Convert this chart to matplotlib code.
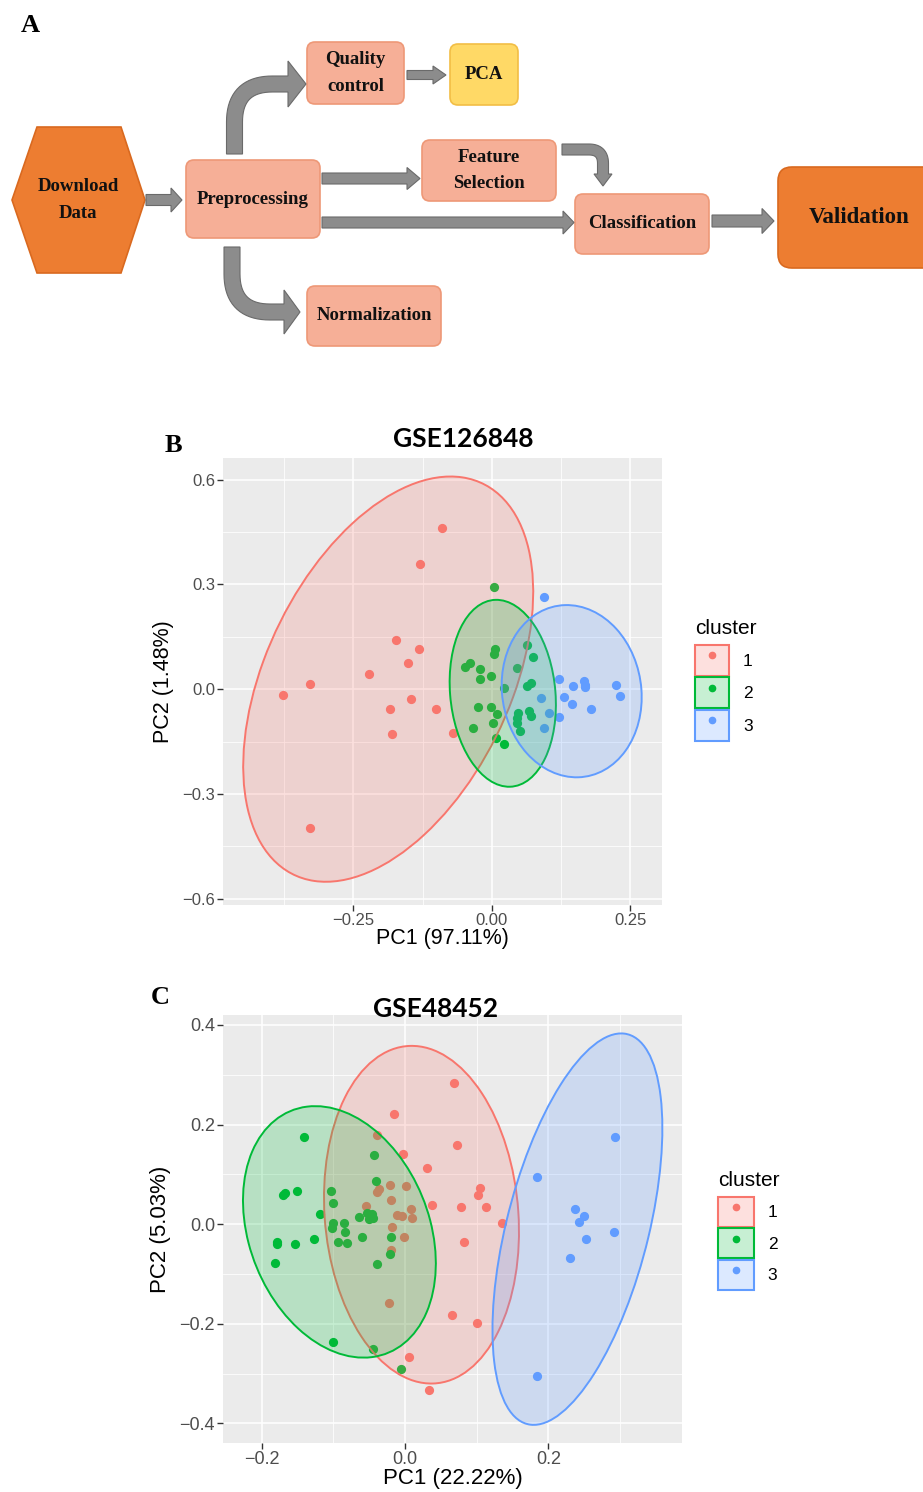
import numpy as np
import matplotlib
matplotlib.use('Agg')
import matplotlib.pyplot as plt
from matplotlib.patches import FancyBboxPatch, Polygon, Ellipse, Patch
from matplotlib.lines import Line2D
from matplotlib.colors import to_rgba

W, H = 923, 1492

# ---------------- data: GSE126848 (panel B) ----------------
b_x1 = [-0.089, -0.130, -0.173, -0.132, -0.151, -0.222, -0.328, -0.377, -0.146, -0.184,
        -0.101, -0.181, -0.070, -0.328]
b_y1 = [0.463, 0.358, 0.141, 0.115, 0.076, 0.043, 0.014, -0.016, -0.029, -0.057,
        -0.057, -0.129, -0.124, -0.396]
b_x2 = [0.004, 0.006, 0.004, 0.063, 0.075, -0.048, -0.039, -0.022, -0.021, -0.001,
        0.045, 0.022, 0.063, 0.071, -0.024, -0.002, 0.009, -0.034, 0.002, 0.008,
        0.022, 0.048, 0.045, 0.046, 0.051, 0.068, 0.071]
b_y2 = [0.292, 0.115, 0.101, 0.127, 0.092, 0.065, 0.074, 0.057, 0.029, 0.039,
        0.062, 0.003, 0.009, 0.017, -0.050, -0.052, -0.071, -0.110, -0.097, -0.140,
        -0.157, -0.067, -0.081, -0.096, -0.119, -0.062, -0.076]
b_x3 = [0.095, 0.122, 0.146, 0.166, 0.169, 0.169, 0.224, 0.231, 0.089, 0.131,
        0.145, 0.179, 0.104, 0.122, 0.095]
b_y3 = [0.265, 0.029, 0.009, 0.024, 0.012, 0.007, 0.012, -0.019, -0.024, -0.021,
        -0.043, -0.056, -0.067, -0.080, -0.112]
# ellipses: centre, half extent in x / y, correlation
b_ell_cx = [-0.187, 0.020, 0.1445]
b_ell_cy = [0.029, -0.0115, -0.0055]
b_ell_sx = [0.262, 0.096, 0.1265]
b_ell_sy = [0.580, 0.2675, 0.2465]
b_ell_r = [0.43, -0.12, -0.07]
b_xticks = [-0.25, 0.0, 0.25]
b_xlabels = ['\u22120.25', '0.00', '0.25']
b_yticks = [-0.6, -0.3, 0.0, 0.3, 0.6]
b_ylabels = ['\u22120.6', '\u22120.3', '0.0', '0.3', '0.6']

# ---------------- data: GSE48452 (panel C) ----------------
c_x1 = [0.068, -0.015, -0.039, 0.073, -0.003, 0.030, 0.104, 0.102, 0.113, 0.078,
        0.037, 0.135, 0.082, 0.065, 0.100, 0.005, 0.033, -0.022,
        -0.021, 0.002, -0.039, -0.036, -0.020, -0.055, -0.011, -0.004, 0.009, 0.010,
        -0.018, -0.002, -0.019]
c_y1 = [0.284, 0.221, 0.179, 0.158, 0.140, 0.112, 0.072, 0.059, 0.034, 0.035,
        0.039, 0.003, -0.035, -0.182, -0.198, -0.266, -0.332, -0.158,
        0.078, 0.077, 0.065, 0.070, 0.049, 0.037, 0.018, 0.017, 0.030, 0.013,
        -0.006, -0.025, -0.052]
c_x2 = [-0.141, -0.043, -0.041, -0.170, -0.167, -0.150, -0.103, -0.101, -0.119, -0.064,
        -0.053, -0.046, -0.050, -0.045, -0.100, -0.102, -0.085, -0.084, -0.060, -0.019,
        -0.094, -0.081, -0.127, -0.153, -0.179, -0.179, -0.181, -0.021, -0.039, -0.100,
        -0.045, -0.006]
c_y2 = [0.176, 0.139, 0.087, 0.059, 0.062, 0.067, 0.067, 0.042, 0.020, 0.015,
        0.023, 0.020, 0.010, 0.012, 0.003, -0.008, 0.003, -0.016, -0.026, -0.025,
        -0.035, -0.037, -0.029, -0.040, -0.035, -0.040, -0.077, -0.060, -0.079, -0.237,
        -0.251, -0.290]
c_x3 = [0.293, 0.184, 0.237, 0.249, 0.243, 0.252, 0.292, 0.230, 0.184]
c_y3 = [0.175, 0.095, 0.031, 0.017, 0.005, -0.030, -0.015, -0.067, -0.304]
c_ell_cx = [0.023, -0.0915, 0.2405]
c_ell_cy = [0.019, -0.0155, -0.010]
c_ell_sx = [0.136, 0.1345, 0.1185]
c_ell_sy = [0.339, 0.2525, 0.393]
c_ell_r = [-0.10, -0.25, 0.515]
c_xticks = [-0.2, 0.0, 0.2]
c_xlabels = ['\u22120.2', '0.0', '0.2']
c_yticks = [-0.4, -0.2, 0.0, 0.2, 0.4]
c_ylabels = ['\u22120.4', '\u22120.2', '0.0', '0.2', '0.4']

clusters = ['1', '2', '3']
cols = ['#F8766D', '#00BA38', '#619CFF']

fig = plt.figure(figsize=(W / 100, H / 100), dpi=100)


def px(x, y):
    return x / W, 1 - y / H


def axes_px(x0, y0, x1, y1):
    return fig.add_axes([x0 / W, 1 - y1 / H, (x1 - x0) / W, (y1 - y0) / H])


# ---------------- panel A: flowchart ----------------
axa = axes_px(0, 0, W, 360)
axa.set_xlim(0, W)
axa.set_ylim(360, 0)
axa.axis('off')

SALMON, SALMON_E = '#F6AF97', '#EE9877'
DARK, DARK_E = '#ED7D31', '#D9691F'
YEL, YEL_E = '#FFD966', '#F2BE45'
SERIF = 'Liberation Serif'


def box(x0, y0, x1, y1, text, fc, ec, size=13.5, r=8):
    axa.add_patch(FancyBboxPatch((x0, y0), x1 - x0, y1 - y0,
                                 boxstyle=f'round,pad=0,rounding_size={r}',
                                 fc=fc, ec=ec, lw=1.2))
    axa.text((x0 + x1) / 2, (y0 + y1) / 2, text, ha='center', va='center',
             fontsize=size, fontweight='bold', family=SERIF, color='#111111',
             linespacing=1.7)


def rounded(points, r):
    out = [np.array(points[0], float)]
    for i in range(1, len(points) - 1):
        p0, c, p1 = (np.array(p, float) for p in points[i - 1:i + 2])
        u0 = (c - p0) / np.linalg.norm(c - p0)
        u1 = (p1 - c) / np.linalg.norm(p1 - c)
        a, b = c - u0 * r, c + u1 * r
        t = np.linspace(0, 1, 20)[:, None]
        out.extend((1 - t) ** 2 * a + 2 * (1 - t) * t * c + t ** 2 * b)
    out.append(np.array(points[-1], float))
    return np.array(out)


def block_arrow(pts, shaft, head_w, head_l, r=0):
    pts = np.array(pts, float)
    tip = pts[-1].copy()
    u = tip - pts[-2]
    u /= np.hypot(*u)
    pts[-1] = tip - u * head_l
    line = rounded(pts, r)
    d = np.gradient(line, axis=0)
    d /= np.hypot(d[:, 0], d[:, 1])[:, None]
    nrm = np.column_stack([-d[:, 1], d[:, 0]])
    left = line + nrm * shaft / 2
    right = line - nrm * shaft / 2
    ne = np.array([-u[1], u[0]])
    head = [line[-1] + ne * head_w / 2, tip, line[-1] - ne * head_w / 2]
    poly = np.vstack([left, head, right[::-1]])
    axa.add_patch(Polygon(poly, closed=True, fc='#8C8C8C', ec='#6A6A6A', lw=0.8))


# hexagon
axa.add_patch(Polygon([(12, 200), (37, 127), (121, 127), (145, 200), (121, 273), (37, 273)],
                      closed=True, fc=DARK, ec=DARK_E, lw=1.2))
axa.text(78, 200, 'Download\nData', ha='center', va='center', fontsize=13.5,
         fontweight='bold', family=SERIF, color='#111111', linespacing=1.7)

box(186, 160, 320, 238, 'Preprocessing', SALMON, SALMON_E)
box(307, 42, 404, 104, 'Quality\ncontrol', SALMON, SALMON_E)
box(450, 44, 518, 105, 'PCA', YEL, YEL_E)
box(422, 140, 556, 201, 'Feature\nSelection', SALMON, SALMON_E)
box(575, 194, 709, 254, 'Classification', SALMON, SALMON_E)
box(307, 286, 441, 346, 'Normalization', SALMON, SALMON_E)
box(778, 167, 940, 268, 'Validation', DARK, DARK_E, size=16.5, r=14)

block_arrow([(146, 200), (182, 200)], 11, 24, 11)
block_arrow([(322, 178.5), (420, 178.5)], 11, 22, 13)
block_arrow([(322, 222.5), (574, 222.5)], 11, 23, 11)
block_arrow([(407, 75), (446, 75)], 9, 18, 13)
block_arrow([(712, 221), (774, 221)], 12, 25, 12)
block_arrow([(234.5, 154), (234.5, 84), (306, 84)], 16, 46, 18, r=38)
block_arrow([(232, 247), (232, 312), (300, 312)], 16, 44, 16, r=38)
block_arrow([(562, 149.5), (603, 149.5), (603, 186)], 11, 18, 12, r=14)

fig.text(*px(30, 26), 'A', ha='center', va='center', fontsize=19,
         fontweight='bold', family=SERIF)


# ---------------- panels B and C ----------------
def ell_patch(cx, cy, sx, sy, rho, col):
    cov = np.array([[sx ** 2, rho * sx * sy], [rho * sx * sy, sy ** 2]])
    vals, vecs = np.linalg.eigh(cov)
    ang = np.degrees(np.arctan2(vecs[1, 1], vecs[0, 1]))
    return Ellipse((cx, cy), 2 * np.sqrt(vals[1]), 2 * np.sqrt(vals[0]), angle=ang,
                   fc=to_rgba(col, 0.22), ec=col, lw=1.4, zorder=3)


def pca_panel(ax, xs, ys, ell, xlim, ylim, xt, xtl, yt, ytl, xlab, ylab,
              fs_tick, fs_lab, xminor, yminor):
    ax.set_facecolor('#EBEBEB')
    for s in ax.spines.values():
        s.set_visible(False)
    for x, y, c in zip(xs, ys, cols):
        ax.scatter(x, y, s=44, color=c, linewidths=0, zorder=2)
    for (cx, cy, sx, sy, rho), c in zip(zip(*ell), cols):
        ax.add_patch(ell_patch(cx, cy, sx, sy, rho, c))
    ax.set_xlim(*xlim)
    ax.set_ylim(*ylim)
    ax.set_xticks(xt, xtl)
    ax.set_yticks(yt, ytl)
    ax.set_xticks(xminor, minor=True)
    ax.set_yticks(yminor, minor=True)
    ax.set_axisbelow(True)
    ax.grid(which='major', color='white', lw=1.1)
    ax.grid(which='minor', color='white', lw=0.55)
    ax.tick_params(which='major', length=4, width=1, color='#333333',
                   labelcolor='#4D4D4D', labelsize=fs_tick, pad=1.5)
    ax.tick_params(which='minor', length=0)
    for lb in ax.get_xticklabels() + ax.get_yticklabels():
        lb.set_family('Liberation Sans')
    ax.set_xlabel(xlab, fontsize=fs_lab, family='Liberation Sans', labelpad=0)
    ax.set_ylabel(ylab, fontsize=fs_lab, family='Liberation Sans', labelpad=6)


def add_legend(ax, x, y, fs, fs_title, hl, hh):
    handles = [(Patch(fc=to_rgba(c, 0.22), ec=c, lw=1.5),
                Line2D([], [], marker='o', ls='', color=c, markersize=4.5))
               for c in cols]
    leg = ax.legend(handles, clusters, title='cluster', loc='upper left',
                    bbox_to_anchor=px(x, y), bbox_transform=fig.transFigure,
                    frameon=False, borderpad=0, borderaxespad=0, handlelength=hl,
                    handleheight=hh, labelspacing=0.08, handletextpad=0.8,
                    prop={'family': 'Liberation Sans', 'size': fs},
                    title_fontproperties={'family': 'Liberation Sans', 'size': fs_title},
                    alignment='left')
    leg._legend_box.sep = 5


axb = axes_px(223, 458, 662, 905)
pca_panel(axb, [b_x1, b_x2, b_x3], [b_y1, b_y2, b_y3],
          (b_ell_cx, b_ell_cy, b_ell_sx, b_ell_sy, b_ell_r),
          (-0.4855, 0.3077), (-0.6175, 0.662),
          b_xticks, b_xlabels, b_yticks, b_ylabels,
          'PC1 (97.11%)', 'PC2 (1.48%)', 12, 15.5,
          [-0.375, -0.125, 0.125], [-0.45, -0.15, 0.15, 0.45])
add_legend(axb, 695, 619, 12.5, 15, 1.96, 2.37)
fig.text(*px(463.5, 447), 'GSE126848', ha='center', va='baseline', fontsize=19,
         fontweight='bold', family='Lato')
fig.text(*px(173, 446), 'B', ha='center', va='center', fontsize=19,
         fontweight='bold', family=SERIF)

axc = axes_px(222.7, 1015, 682.3, 1443.3)
pca_panel(axc, [c_x1, c_x2, c_x3], [c_y1, c_y2, c_y3],
          (c_ell_cx, c_ell_cy, c_ell_sx, c_ell_sy, c_ell_r),
          (-0.2543, 0.3868), (-0.440, 0.420),
          c_xticks, c_xlabels, c_yticks, c_ylabels,
          'PC1 (22.22%)', 'PC2 (5.03%)', 13, 16,
          [-0.1, 0.1, 0.3], [-0.3, -0.1, 0.1, 0.3])
add_legend(axc, 718, 1171, 12.5, 15, 2.07, 2.28)
fig.text(*px(435.5, 1017), 'GSE48452', ha='center', va='baseline', fontsize=19,
         fontweight='bold', family='Lato')
fig.text(*px(160, 997), 'C', ha='center', va='center', fontsize=19,
         fontweight='bold', family=SERIF)

fig.savefig('out.png', dpi=100, facecolor='white')
